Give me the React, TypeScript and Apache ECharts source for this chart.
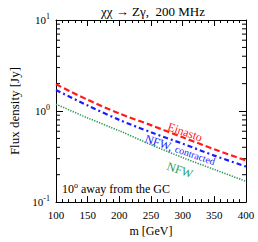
import React, { useEffect, useRef } from "react";
import * as echarts from "echarts";

const masses = [100, 150, 200, 250, 300, 350, 400];
const einasto = [1.97, 1.33, 0.94, 0.7, 0.515, 0.38, 0.286];
const nfwContracted = [1.7, 1.15, 0.8, 0.584, 0.438, 0.324, 0.246];
const nfw = [1.19, 0.84, 0.607, 0.427, 0.308, 0.228, 0.169];
const yMinorTicks = [0.2, 0.3, 0.4, 0.5, 0.6, 0.7, 0.8, 0.9, 2, 3, 4, 5, 6, 7, 8, 9];

const FONT = "'Liberation Serif', 'Times New Roman', serif";

export default function App() {
  const ref = useRef<HTMLDivElement>(null);
  useEffect(() => {
    if (!ref.current) return;
    const chart = echarts.init(ref.current, null, { renderer: "svg" });
    const pair = (arr: number[]) => masses.map((m, i) => [m, arr[i]]);
    const expFmt = (v: number) => {
      const e = Math.round(Math.log10(v));
      return `{b|10}{s|${e}}`;
    };
    const richLbl = {
      b: { fontFamily: FONT, fontSize: 11, color: "#000" },
      s: { fontFamily: FONT, fontSize: 8, color: "#000", padding: [0, 0, 7, 0] },
    };
    const axisBase = {
      axisLine: { show: true, lineStyle: { color: "#000", width: 1 } },
      splitLine: { show: false },
    };
    chart.setOption({
      animation: false,
      backgroundColor: "#fff",
      textStyle: { fontFamily: FONT },
      grid: { left: 49, right: 12, top: 20, bottom: 38 },
      title: {
        text: "χχ → Zγ,  200 MHz",
        left: 148,
        top: 0,
        textAlign: "center",
        textStyle: { fontFamily: FONT, fontSize: 13, fontWeight: "normal", color: "#000" },
      },
      xAxis: [
        {
          ...axisBase,
          type: "value",
          min: 100,
          max: 400,
          interval: 50,
          position: "bottom",
          axisTick: { inside: true, length: 6, lineStyle: { color: "#000" } },
          minorTick: { show: true, splitNumber: 5, length: 3, lineStyle: { color: "#000" } },
          axisLabel: { fontFamily: FONT, fontSize: 11, color: "#000", margin: 7 },
          name: "m [GeV]",
          nameLocation: "middle",
          nameGap: 22,
          nameTextStyle: { fontFamily: FONT, fontSize: 12, color: "#000" },
        },
        {
          ...axisBase,
          type: "value",
          min: 100,
          max: 400,
          interval: 50,
          position: "top",
          axisTick: { inside: true, length: 6, lineStyle: { color: "#000" } },
          minorTick: { show: true, splitNumber: 5, length: 3, lineStyle: { color: "#000" } },
          axisLabel: { show: false },
        },
      ],
      yAxis: [
        {
          ...axisBase,
          type: "log",
          min: 0.1,
          max: 10,
          logBase: 10,
          position: "left",
          axisTick: { inside: true, length: 7, lineStyle: { color: "#000" } },
          axisLabel: { formatter: expFmt, rich: richLbl, margin: 6 },
          name: "Flux density [Jy]",
          nameLocation: "middle",
          nameGap: 35,
          nameTextStyle: { fontFamily: FONT, fontSize: 13, color: "#000" },
        },
        {
          ...axisBase,
          type: "log",
          min: 0.1,
          max: 10,
          logBase: 10,
          position: "right",
          axisTick: { inside: true, length: 7, lineStyle: { color: "#000" } },
          axisLabel: { show: false },
        },
      ],
      series: [
        {
          type: "line",
          name: "Einasto",
          data: pair(einasto),
          symbol: "none",
          smooth: 0.3,
          lineStyle: { color: "#ff1a1a", width: 2.2, type: [6, 3] },
        },
        {
          type: "line",
          name: "NFW, contracted",
          data: pair(nfwContracted),
          symbol: "none",
          smooth: 0.3,
          lineStyle: { color: "#1a1aff", width: 2.2, type: [5, 3, 2, 3] },
        },
        {
          type: "line",
          name: "NFW",
          data: pair(nfw),
          symbol: "none",
          smooth: 0.3,
          lineStyle: { color: "#2e9955", width: 1.6, type: [1.3, 1.3] },
        },
        {
          type: "custom",
          silent: true,
          data: yMinorTicks.map((v) => [100, v]),
          renderItem: (params: any, api: any) => {
            const v = api.value(1);
            const l = api.coord([100, v]);
            const r = api.coord([400, v]);
            return {
              type: "group",
              children: [
                { type: "line", shape: { x1: l[0], y1: l[1], x2: l[0] + 4, y2: l[1] }, style: { stroke: "#000", lineWidth: 1 } },
                { type: "line", shape: { x1: r[0], y1: r[1], x2: r[0] - 4, y2: r[1] }, style: { stroke: "#000", lineWidth: 1 } },
              ],
            };
          },
        },
      ],
      graphic: [
        {
          type: "text",
          x: 185,
          y: 132,
          rotation: -0.33,
          style: { text: "Einasto", fill: "#ff1a1a", fontFamily: FONT, fontSize: 12, align: "center", verticalAlign: "middle" },
        },
        {
          type: "text",
          x: 180,
          y: 150,
          rotation: -0.33,
          style: {
            text: "{a|NFW,} {b|contracted}",
            rich: {
              a: { fill: "#1a1aff", fontFamily: FONT, fontSize: 12 },
              b: { fill: "#1a1aff", fontFamily: FONT, fontSize: 10 },
            },
            align: "center",
            verticalAlign: "middle",
          },
        },
        {
          type: "text",
          x: 180,
          y: 170,
          rotation: -0.33,
          style: { text: "NFW", fill: "#2e9955", fontFamily: FONT, fontSize: 12, align: "center", verticalAlign: "middle" },
        },
        {
          type: "text",
          x: 62,
          y: 189,
          style: {
            text: "{b|10}{s|o}{b| away from the GC}",
            rich: {
              b: { fontFamily: FONT, fontSize: 12, fill: "#000" },
              s: { fontFamily: FONT, fontSize: 8, fill: "#000", padding: [0, 0, 8, 0] },
            },
            verticalAlign: "middle",
          },
        },
      ],
    });
    return () => chart.dispose();
  }, []);
  return <div ref={ref} style={{ position: "fixed", left: 0, top: 0, width: 258, height: 242 }} />;
}
